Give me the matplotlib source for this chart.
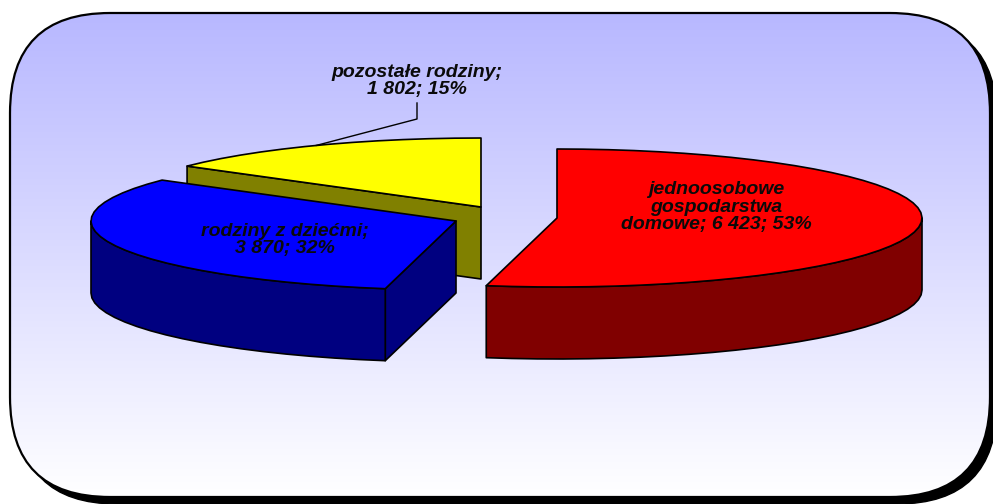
"""Exploded 3D pie of household types, drawn in pixel coordinates of the figure."""
import matplotlib

matplotlib.use("Agg")
import matplotlib.pyplot as plt
import numpy as np
from matplotlib.patches import FancyBboxPatch, Polygon

values = [6423, 3870, 1802]
labels = ["jednoosobowe\ngospodarstwa\ndomowe; 6 423; 53%",
          "rodziny z dziećmi;\n3 870; 32%",
          "pozostałe rodziny;\n1 802; 15%"]
top_colors = ["#ff0000", "#0000ff", "#ffff00"]
side_colors = ["#800000", "#000080", "#808000"]

# layout, px
W, H = 993, 504
apex = [(557, 218), (456, 221), (481, 207)]
label_xy = [(716, 207), (285, 240), (417, 81)]
RX, RY, DEPTH = 365, 69, 72
STEP = np.radians(4)

plt.rcParams["font.family"] = ["Liberation Sans", "DejaVu Sans"]
fig = plt.figure(figsize=(W / 100, H / 100), dpi=100)
ax = fig.add_axes([0, 0, 1, 1])
ax.set_xlim(0, W)
ax.set_ylim(H, 0)
ax.axis("off")


def frame_patch(dx=0, dy=0, **kw):
    pad = 100
    return FancyBboxPatch((10 + pad + dx, 13 + pad + dy), 980 - 2 * pad, 484 - 2 * pad,
                          boxstyle=f"round,pad={pad},rounding_size={pad}", **kw)


ax.add_patch(frame_patch(7, 7, fc="black", ec="black", lw=1, zorder=1))
bg = frame_patch(fc="none", ec="none", zorder=2)
ax.add_patch(bg)
grad = np.linspace(0, 1, 256)[:, None]
grad = np.dstack([0.72 + 0.28 * grad, 0.72 + 0.28 * grad, np.ones_like(grad)])
im = ax.imshow(grad, extent=(10, 990, 497, 13), aspect="auto", zorder=2)
im.set_clip_path(bg)
ax.set_xlim(0, W)
ax.set_ylim(H, 0)
ax.add_patch(frame_patch(fc="none", ec="black", lw=1.6, zorder=3))


def rim(c, t0, t1):
    n = max(int((t1 - t0) / STEP), 1)
    t = np.linspace(t0, t1, n + 1)
    return np.column_stack([c[0] + RX * np.sin(t), c[1] - RY * np.cos(t)])


def draw_slice(c, t0, t1, top, side, z):
    kw = dict(ec="black", lw=1.2, joinstyle="round", zorder=z)
    down = np.array([0, DEPTH])
    # cut faces, only those turned to the viewer
    for t, visible in ((t0, np.sin(t0) < -1e-9), (t1, np.sin(t1) > 1e-9)):
        if visible:
            p = rim(c, t, t)[0]
            ax.add_patch(Polygon([c, p, p + down, np.add(c, down)], fc=side, **kw))
    # front part of the outer wall
    a, b = max(t0, np.pi / 2), min(t1, 3 * np.pi / 2)
    if a < b:
        edge = rim(c, a, b)
        ax.add_patch(Polygon(np.vstack([edge, edge[::-1] + down]), fc=side, **kw))
    ax.add_patch(Polygon(np.vstack([[c], rim(c, t0, t1)]), fc=top, **kw))


edges = np.concatenate([[0], np.cumsum(values)]) / np.sum(values) * 2 * np.pi
order = [2, 1, 0]  # back to front
for i in order:
    draw_slice(apex[i], edges[i], edges[i + 1], top_colors[i], side_colors[i], 4 + order.index(i))

# leader line of the small slice
mid = (edges[2] + edges[3]) / 2
start = rim(apex[2], mid, mid)[0]
ax.plot([start[0], 417, 417], [start[1], 119, 103], color="black", lw=1, zorder=8)

for (x, y), s in zip(label_xy, labels):
    ax.text(x, y, s, ha="center", va="center", fontsize=14, fontweight="bold",
            fontstyle="italic", color="#0a0a0a", linespacing=1.05, zorder=9)

fig.savefig("out.png", dpi=100)
plt.close(fig)
